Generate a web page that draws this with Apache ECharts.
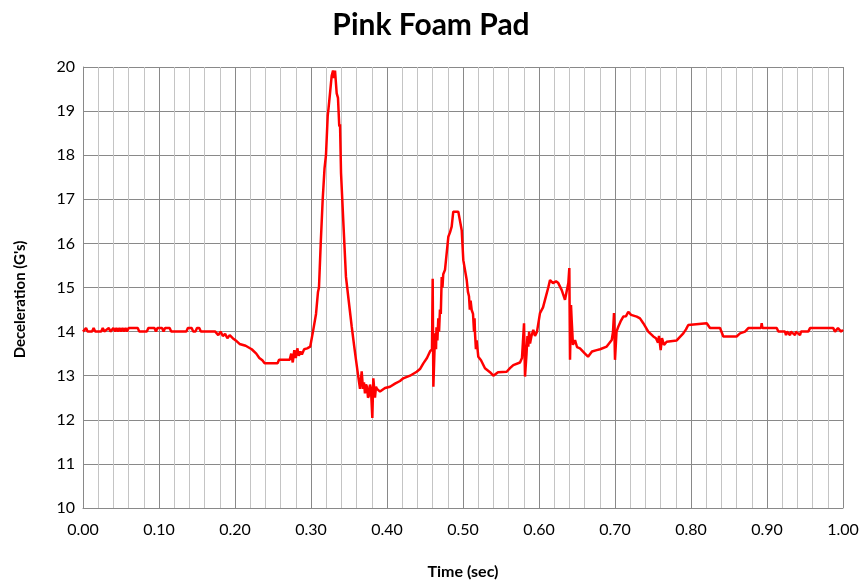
<!DOCTYPE html>
<html>
<head>
<meta charset="utf-8">
<script src="https://cdn.jsdelivr.net/npm/echarts@6/dist/echarts.min.js"></script>
<style>
  html, body { margin: 0; padding: 0; background: #fff; }
  #mychart { width: 862px; height: 585px; }
</style>
</head>
<body>
<div id="mychart"></div>
<script>
"use strict";
// time (s) and deceleration (G's), one line per stretch
const time = [
    0.000, 0.004, 0.006, 0.012, 0.014, 0.016, 0.024, 0.026, 0.028, 0.034,
    0.036, 0.040, 0.042, 0.044, 0.046, 0.048, 0.050, 0.052, 0.054, 0.056,
    0.058, 0.060, 0.072, 0.074, 0.084, 0.086, 0.094, 0.096, 0.098, 0.104,
    0.106, 0.108, 0.114, 0.116, 0.136, 0.138, 0.143, 0.145, 0.148, 0.150,
    0.153, 0.155, 0.174, 0.178, 0.181, 0.184, 0.187, 0.190, 0.193, 0.197,
    0.201, 0.206, 0.214, 0.222, 0.228, 0.232, 0.236, 0.239, 0.256, 0.258,
    0.272, 0.274, 0.276, 0.278, 0.280, 0.282, 0.284, 0.286, 0.288, 0.291,
    0.295, 0.299, 0.3026, 0.3066, 0.3092, 0.3105, 0.3128, 0.3154, 0.3178, 0.3197,
    0.322, 0.323, 0.325, 0.3272, 0.329, 0.3303, 0.3316, 0.3338, 0.3355, 0.3372,
    0.3382, 0.3395, 0.3425, 0.346, 0.349, 0.3536, 0.3566, 0.3592, 0.3622, 0.3645,
    0.3667, 0.3684, 0.3697, 0.371, 0.3724, 0.3737, 0.3750, 0.3763, 0.3776, 0.3789, 0.3807, 0.382, 0.3842, 0.3855, 0.3868,
    0.3908, 0.3974, 0.404, 0.4105, 0.4171, 0.4214, 0.4303, 0.4391, 0.4434, 0.4478,
    0.4526, 0.4566, 0.4592, 0.4601, 0.461, 0.4632, 0.4645, 0.4651, 0.4663, 0.4675, 0.4685, 0.4697, 0.4708, 0.472, 0.473, 0.474, 0.4763,
    0.4807, 0.4829, 0.4851, 0.4872, 0.4938, 0.4983, 0.5004, 0.5049, 0.5065, 0.5079,
    0.509, 0.510, 0.5114, 0.5132, 0.5145, 0.5152, 0.5158, 0.517, 0.518, 0.5201,
    0.5237, 0.5289, 0.5355, 0.5399, 0.5461, 0.5575, 0.5618, 0.5662, 0.575, 0.5776,
    0.5803, 0.5816, 0.5836, 0.5848, 0.5859, 0.5870, 0.5882, 0.5901, 0.5925, 0.5947, 0.5974,
    0.6013, 0.6053, 0.6079, 0.6122, 0.6145, 0.6184, 0.6224, 0.6254, 0.6299, 0.6342,
    0.6368, 0.6386, 0.6399, 0.6408, 0.6421, 0.643, 0.6447, 0.6474, 0.65, 0.6539,
    0.6605, 0.6645, 0.6671, 0.6697, 0.6759, 0.6803, 0.6891, 0.6957, 0.6974, 0.6987,
    0.700, 0.702, 0.7043, 0.7079, 0.7109, 0.7145, 0.7175, 0.7211, 0.7286, 0.7329,
    0.7372, 0.7438, 0.7504, 0.7539, 0.7566, 0.7579, 0.7601, 0.7618, 0.7645, 0.768,
    0.7812, 0.7855, 0.7899, 0.7934, 0.7964, 0.7987, 0.8207, 0.825, 0.8382, 0.8425,
    0.860, 0.8645, 0.8711, 0.8754, 0.8921, 0.893, 0.894, 0.9128, 0.9149, 0.9237,
    0.925, 0.9263, 0.9303, 0.9316, 0.9368, 0.9382, 0.9434, 0.9447, 0.9543, 0.9566,
    0.9872, 0.9895, 0.9934, 0.9974, 1.000
];
const decel = [
    14.0, 14.08, 14.0, 14.0, 14.08, 14.0, 14.0, 14.08, 14.0, 14.08,
    14.0, 14.08, 14.0, 14.08, 14.0, 14.08, 14.0, 14.08, 14.0, 14.08,
    14.0, 14.08, 14.08, 14.0, 14.0, 14.08, 14.08, 14.0, 14.08, 14.08,
    14.0, 14.08, 14.08, 14.0, 14.0, 14.08, 14.08, 14.0, 14.0, 14.08,
    14.08, 14.0, 14.0, 13.92, 14.0, 13.9, 13.95, 13.85, 13.92, 13.85,
    13.8, 13.72, 13.68, 13.6, 13.5, 13.4, 13.35, 13.28, 13.28, 13.36,
    13.36, 13.5, 13.3, 13.58, 13.4, 13.62, 13.45, 13.55, 13.48, 13.6,
    13.62, 13.66, 14.0, 14.4, 14.9, 15.0, 16.0, 17.0, 17.7, 18.0,
    18.9, 19.05, 19.4, 19.8, 19.92, 19.75, 19.92, 19.4, 19.3, 18.65,
    18.7, 17.6, 16.5, 15.24, 14.79, 14.11, 13.7, 13.36, 12.98, 12.7,
    13.1, 12.7, 12.85, 12.6, 12.8, 12.75, 12.5, 12.55, 12.8, 12.7, 12.04, 12.94, 12.5, 12.75, 12.7,
    12.64, 12.72, 12.75, 12.82, 12.88, 12.94, 13.0, 13.09, 13.15, 13.28,
    13.4, 13.55, 13.6, 15.2, 12.75, 13.96, 13.6, 14.1, 13.8, 14.3, 14.0, 14.5, 14.4, 15.24, 15.0, 15.3, 15.4,
    16.15, 16.25, 16.38, 16.72, 16.72, 16.3, 15.62, 15.17, 14.9, 14.8,
    14.5, 14.7, 14.49, 14.4, 14.0, 14.3, 13.96, 13.6, 13.8, 13.43,
    13.35, 13.17, 13.08, 13.0, 13.08, 13.09, 13.17, 13.24, 13.3, 13.4,
    14.19, 12.98, 13.5, 13.9, 13.66, 14.0, 13.73, 13.9, 14.04, 13.9, 14.0,
    14.42, 14.55, 14.72, 15.0, 15.17, 15.1, 15.14, 15.1, 14.94, 14.72,
    14.95, 15.1, 15.44, 13.36, 14.6, 14.26, 13.7, 13.81, 13.65, 13.62,
    13.5, 13.43, 13.43, 13.55, 13.58, 13.6, 13.66, 13.81, 14.0, 14.42,
    13.36, 14.0, 14.11, 14.25, 14.34, 14.35, 14.45, 14.38, 14.34, 14.3,
    14.19, 14.0, 13.89, 13.85, 13.75, 13.9, 13.58, 13.85, 13.7, 13.77,
    13.8, 13.88, 13.96, 14.05, 14.15, 14.19, 14.19, 14.08, 14.08, 13.89,
    13.89, 13.96, 14.0, 14.08, 14.08, 14.19, 14.08, 14.08, 14.0, 14.0,
    13.92, 14.0, 13.92, 14.0, 13.92, 14.0, 13.92, 14.0, 14.0, 14.08,
    14.08, 14.0, 14.08, 14.0, 14.04
];

const container = document.getElementById('mychart');
const myChart = echarts.init(container, null, { renderer: 'canvas' });

const seriesData = time.map((t, i) => [t, decel[i]]);
const fontName = 'Lato';

const option = {
    animation: false,
    backgroundColor: '#fff',
    title: {
        text: 'Pink Foam Pad',
        left: 'center',
        top: 5,
        textStyle: {
            fontFamily: fontName,
            fontSize: 30,
            fontWeight: 'bold',
            color: '#000'
        }
    },
    grid: {
        left: 83,
        right: 19,
        top: 67,
        bottom: 77
    },
    xAxis: {
        type: 'value',
        min: 0,
        max: 1,
        interval: 0.1,
        name: 'Time (sec)',
        nameLocation: 'middle',
        nameGap: 56,
        nameTextStyle: {
            fontFamily: fontName,
            fontSize: 16,
            fontWeight: 'bold',
            color: '#000'
        },
        axisLine: { show: true, lineStyle: { color: '#898989', width: 1 } },
        axisTick: { show: false },
        minorTick: { show: false, splitNumber: 5 },
        axisLabel: {
            margin: 14,
            fontFamily: fontName,
            fontSize: 16,
            color: '#000',
            formatter: v => v.toFixed(2)
        },
        splitLine: { show: true, lineStyle: { color: '#898989', width: 1 } },
        minorSplitLine: { show: true, lineStyle: { color: '#c4c4c4', width: 1 } }
    },
    yAxis: {
        type: 'value',
        min: 10,
        max: 20,
        interval: 1,
        name: "Deceleration (G's)",
        nameLocation: 'middle',
        nameGap: 55,
        nameTextStyle: {
            fontFamily: fontName,
            fontSize: 15,
            fontWeight: 'bold',
            color: '#000',
            padding: [0, 24, 0, 0]
        },
        axisLine: { show: true, lineStyle: { color: '#898989', width: 1 } },
        axisTick: { show: false },
        axisLabel: {
            margin: 8,
            fontFamily: fontName,
            fontSize: 16,
            color: '#000'
        },
        splitLine: { show: true, lineStyle: { color: '#898989', width: 1 } }
    },
    series: [
        {
            type: 'line',
            data: seriesData,
            showSymbol: false,
            symbol: 'none',
            lineStyle: { color: '#ff0000', width: 2.5 },
            z: 5
        }
    ]
};
myChart.setOption(option);
</script>
</body>
</html>
